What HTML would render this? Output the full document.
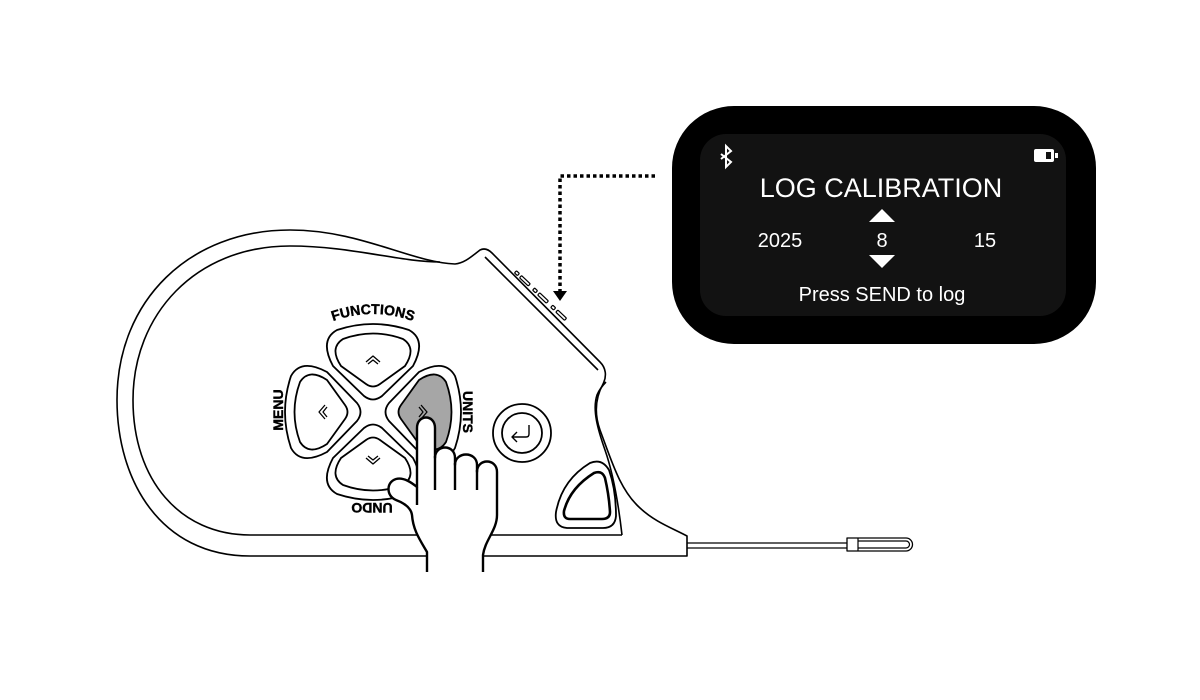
<!DOCTYPE html>
<html><head><meta charset="utf-8"><style>
html,body{margin:0;padding:0;background:#fff;}
svg{display:block;}
text{font-family:"Liberation Sans",sans-serif;}
</style></head><body>
<svg width="1200" height="700" viewBox="0 0 1200 700" xmlns="http://www.w3.org/2000/svg">
<rect width="1200" height="700" fill="#fff"/>
<g fill="none" stroke="#000" stroke-width="1.6" stroke-linejoin="round">
<path d="M687,556 L250,556 C160,556 117,480 117,400 C117,300 190,230 290,230 C360,230 410,262 455,264 C465,263 472,256 480,250 C484,248 488,249 492,253 L600,362 C606,368 607,376 603,384 C597,395 593,410 600,430 C612,462 620,490 640,508 C655,522 672,528 687,536 Z" fill="#fff"/>
<path d="M622,535 L250,535 C180,535 133,480 133,400 C133,315 195,246 290,246 C350,246 400,262 440,262"/>
<path d="M622,535 C618,500 612,470 605,450 C598,430 592,410 597,395 C600,388 604,384 606,382"/>
<path d="M485,257 L598,370"/>
<g transform="translate(492,253) rotate(43.5)" stroke-width="1.2" fill="#fff">
<rect x="30" y="-4" width="4" height="3" rx="1"/>
<rect x="37" y="-4" width="12" height="3" rx="1"/>
<rect x="55" y="-4" width="4" height="3" rx="1"/>
<rect x="62" y="-4" width="12" height="3" rx="1"/>
<rect x="80" y="-4" width="4" height="3" rx="1"/>
<rect x="87" y="-4" width="12" height="3" rx="1"/>
</g>
<path d="M687,543 L847,543 M687,548 L847,548" stroke-width="1.3"/>
<path d="M847,538 L906,538 A6,6 0 0 1 906,551 L847,551 Z" fill="#fff" stroke-width="1.3"/>
<path d="M858,538 L858,551 M858,541 L906,541 A3,3 0 0 1 906,548 L858,548" stroke-width="1.2"/>
</g>

<g fill="none" stroke="#000" stroke-width="1.8" stroke-linejoin="round">
<g transform="translate(373,412)">
<g><path d="M-36,-82 Q0,-94 36,-82 Q54,-72 40,-46 L9,-16 Q0,-9 -9,-16 L-40,-46 Q-54,-72 -36,-82 Z" fill="#fff"/><path d="M-30,-73 Q0,-84 30,-73 Q44,-64 32,-46 L7,-28 Q0,-23 -7,-28 L-32,-46 Q-44,-64 -30,-73 Z" fill="#fff"/></g>
<g transform="rotate(-90)"><path d="M-36,-82 Q0,-94 36,-82 Q54,-72 40,-46 L9,-16 Q0,-9 -9,-16 L-40,-46 Q-54,-72 -36,-82 Z" fill="#fff"/><path d="M-30,-73 Q0,-84 30,-73 Q44,-64 32,-46 L7,-28 Q0,-23 -7,-28 L-32,-46 Q-44,-64 -30,-73 Z" fill="#fff"/></g>
<g transform="rotate(180)"><path d="M-36,-82 Q0,-94 36,-82 Q54,-72 40,-46 L9,-16 Q0,-9 -9,-16 L-40,-46 Q-54,-72 -36,-82 Z" fill="#fff"/><path d="M-30,-73 Q0,-84 30,-73 Q44,-64 32,-46 L7,-28 Q0,-23 -7,-28 L-32,-46 Q-44,-64 -30,-73 Z" fill="#fff"/></g>
<g transform="rotate(90)"><path d="M-36,-82 Q0,-94 36,-82 Q54,-72 40,-46 L9,-16 Q0,-9 -9,-16 L-40,-46 Q-54,-72 -36,-82 Z" fill="#fff"/><path d="M-30,-73 Q0,-84 30,-73 Q44,-64 32,-46 L7,-28 Q0,-23 -7,-28 L-32,-46 Q-44,-64 -30,-73 Z" fill="#a6a6a6"/></g>
</g>
<g stroke-width="1.3">
<path d="M366,362 l7,-6 l7,6 M368,364 l5,-4 l5,4"/>
<path d="M325,405 l-6,7 l6,7 M327,407 l-4,5 l4,5"/>
<path d="M421,405 l6,7 l-6,7 M419,407 l4,5 l-4,5"/>
<path d="M366,458 l7,6 l7,-6 M368,456 l5,4 l5,-4"/>
</g>
<circle cx="522" cy="433" r="29" fill="#fff"/>
<circle cx="522" cy="433" r="20"/>
<path d="M529,425 L529,434 Q529,437 526,437 L513,437 M517,432 l-5,5 l5,5" stroke-width="1.4"/>
<path d="M590,463 Q602,458 609,470 Q616,490 616,516 Q615,528 603,528 L567,528 Q554,527 556,512 Q562,480 590,463 Z" fill="#fff"/>
<path d="M594,473 Q602,470 605,478 Q609,495 610,512 Q610,519 602,519 L570,519 Q563,519 564,511 Q570,488 594,473 Z" stroke-width="2.6"/>
</g>

<defs><path id="arcT" d="M313,330 Q373,298 433,330"/></defs>
<text font-size="14" font-weight="bold" text-anchor="middle" stroke="#000" stroke-width="0.4"><textPath href="#arcT" startOffset="50%">FUNCTIONS</textPath></text>
<text x="0" y="0" font-size="14" font-weight="bold" stroke="#000" stroke-width="0.4" text-anchor="middle" transform="translate(283,410) rotate(-90)">MENU</text>
<text x="0" y="0" font-size="14" font-weight="bold" stroke="#000" stroke-width="0.4" text-anchor="middle" transform="translate(463,412) rotate(90)">UNITS</text>
<text x="0" y="0" font-size="14" font-weight="bold" stroke="#000" stroke-width="0.4" text-anchor="middle" transform="translate(372,503) rotate(180)">UNDO</text>

<path d="M427,572 L427,552 C420,540 413,530 412,515 C411,508 404,503 396,500 C386,496 386,482 396,479 C404,477 412,483 417,487 L417,428 C417,414 435,414 435,428 L435,458 C435,444 455,444 455,458 L455,465 C455,451 477,451 477,465 L477,472 C477,458 497,458 497,472 L497,515 C497,530 485,540 483,555 L483,572" fill="#fff" stroke="#000" stroke-width="2.4" stroke-linejoin="round"/>
<path d="M435,456 L435,490 M455,463 L455,490 M477,470 L477,490 M417,487 L417,505" stroke="#000" stroke-width="2.4" fill="none"/>

<path d="M655,176 L560,176 L560,292" fill="none" stroke="#000" stroke-width="3.5" stroke-dasharray="3.5,3"/>
<path d="M553,291 L567,291 L560,301 Z" fill="#000"/>

<rect x="672" y="106" width="424" height="238" rx="62" fill="#000"/>
<rect x="700" y="134" width="366" height="182" rx="26" fill="#121212"/>
<text x="881" y="197" font-size="27" fill="#fff" text-anchor="middle">LOG CALIBRATION</text>
<text x="780" y="247" font-size="20" fill="#fff" text-anchor="middle">2025</text>
<text x="882" y="247" font-size="20" fill="#fff" text-anchor="middle">8</text>
<text x="985" y="247" font-size="20" fill="#fff" text-anchor="middle">15</text>
<path d="M869,222 L895,222 L882,209 Z M869,255 L895,255 L882,268 Z" fill="#fff"/>
<text x="882" y="301" font-size="20" fill="#fff" text-anchor="middle">Press SEND to log</text>
<path d="M721,154 L731,162 L726,167 L726,146 L731,151 L721,159" stroke="#fff" stroke-width="2" fill="none"/>
<rect x="1034" y="149" width="20" height="13" rx="2" fill="#fff"/>
<rect x="1046" y="152" width="5" height="7" fill="#121212"/>
<rect x="1055" y="153" width="3" height="5" fill="#fff"/>
</svg>
</body></html>
